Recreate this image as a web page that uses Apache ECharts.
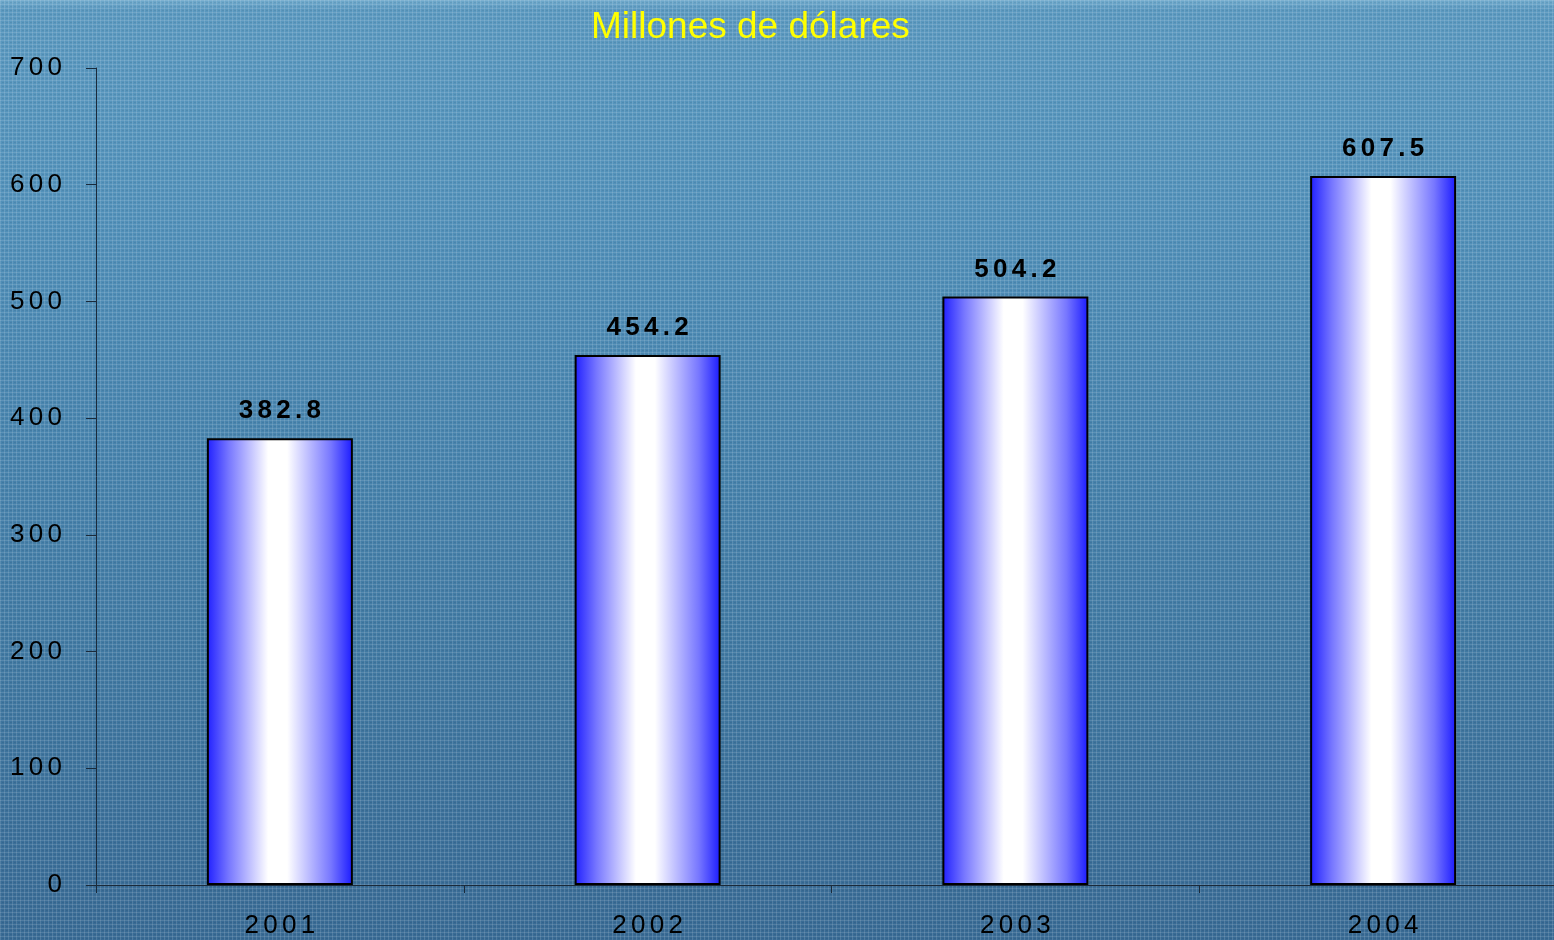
<!DOCTYPE html>
<html>
<head>
<meta charset="utf-8">
<style>html,body{margin:0;padding:0;}#c{width:1554px;height:940px;}</style>
<script src="https://cdn.jsdelivr.net/npm/echarts@6/dist/echarts.min.js"></script>
</head>
<body>
<div id="c"></div>
<script>
const categories = ['2001', '2002', '2003', '2004'];
const values = [382.8, 454.2, 504.2, 607.5];
const yTicks = [0, 100, 200, 300, 400, 500, 600, 700];
const titleText = 'Millones de dólares';

function spaced(s) { return String(s).split('').join('\u2006'); }

// subtle woven texture tile
const tile = document.createElement('canvas');
tile.width = 4; tile.height = 4;
const tc = tile.getContext('2d');
tc.fillStyle = 'rgba(255,255,255,0.12)';
tc.fillRect(0, 0, 4, 1);
tc.fillRect(0, 0, 1, 4);
tc.fillStyle = 'rgba(0,0,0,0.06)';
tc.fillRect(2, 2, 2, 1);

const chart = echarts.init(document.getElementById('c'));
chart.setOption({
  backgroundColor: {
    type: 'linear', x: 0, y: 0, x2: 0, y2: 1,
    colorStops: [
      { offset: 0, color: '#70aacc' },
      { offset: 0.01, color: '#5a98bf' },
      { offset: 0.23, color: '#5190b9' },
      { offset: 0.45, color: '#4884ae' },
      { offset: 0.67, color: '#417aa3' },
      { offset: 0.89, color: '#3b6f99' },
      { offset: 1, color: '#386a94' }
    ]
  },
  graphic: [{
    type: 'rect', z: -10, silent: true,
    shape: { x: 0, y: 0, width: 1554, height: 940 },
    style: { fill: { image: tile, repeat: 'repeat' } }
  }],
  title: {
    text: titleText, left: 586, top: 4,
    textStyle: { color: '#ffff00', fontFamily: 'Liberation Sans, Arial', fontSize: 37, fontWeight: 'normal' }
  },
  grid: { left: 96, right: -13, top: 68, bottom: 55, outerBoundsMode: 'none', containLabel: false },
  xAxis: {
    type: 'category', data: categories,
    axisLine: { lineStyle: { color: '#1a2a3a', width: 1 } },
    axisTick: { show: true, alignWithLabel: false, length: 8, lineStyle: { color: '#1a2a3a' } },
    axisLabel: { color: '#000', fontFamily: 'Liberation Sans, Arial', fontSize: 26, margin: 28, formatter: v => spaced(v) }
  },
  yAxis: {
    type: 'value', min: 0, max: 700, interval: 100,
    axisLine: { show: true, lineStyle: { color: '#1a2a3a', width: 1 } },
    axisTick: { show: true, length: 10, lineStyle: { color: '#1a2a3a' } },
    splitLine: { show: false },
    axisLabel: { color: '#000', fontFamily: 'Liberation Sans, Arial', fontSize: 26, margin: 34,
      formatter: v => yTicks.includes(v) ? spaced(v) : '' }
  },
  series: [{
    type: 'bar', data: values, barWidth: 146,
    itemStyle: {
      borderColor: '#000', borderWidth: 2,
      color: {
        type: 'linear', x: 0, y: 0, x2: 1, y2: 0,
        colorStops: [
          { offset: 0, color: '#1f1fff' },
          { offset: 0.15, color: '#7777ff' },
          { offset: 0.42, color: '#ffffff' },
          { offset: 0.55, color: '#ffffff' },
          { offset: 0.85, color: '#7777ff' },
          { offset: 1, color: '#1a1aff' }
        ]
      }
    },
    label: {
      show: true, position: 'top', distance: 14, color: '#000',
      fontFamily: 'Liberation Sans, Arial', fontSize: 26, fontWeight: 'bold',
      formatter: p => spaced(p.value.toFixed(1))
    }
  }]
});
</script>
</body>
</html>
